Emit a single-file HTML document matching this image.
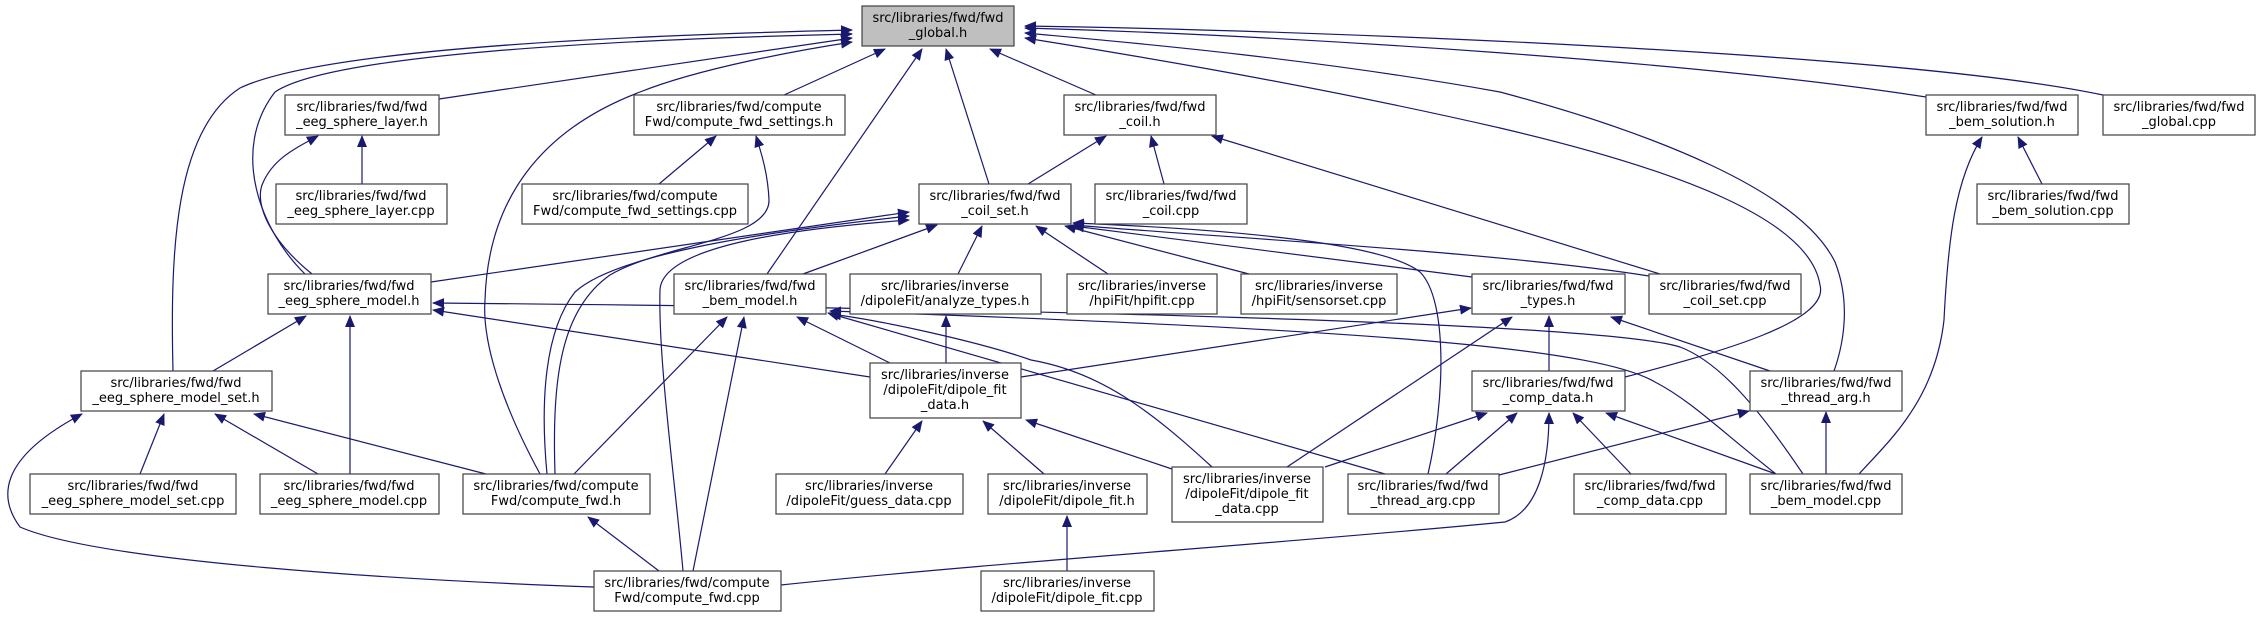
<!DOCTYPE html>
<html><head><meta charset="utf-8"><style>
html,body{margin:0;padding:0;background:#fff;}
svg{display:block;}
text{font-family:"DejaVu Sans","Liberation Sans",sans-serif;font-size:13px;fill:#000;text-anchor:middle;}
.b{fill:#fff;stroke:#404040;stroke-width:1.2;}
.e{fill:none;stroke:#191970;stroke-width:1.2;}
</style></head><body>
<svg width="2259" height="617" viewBox="0 0 2259 617" xmlns="http://www.w3.org/2000/svg">
<defs><marker id="a" markerWidth="12" markerHeight="10" refX="11" refY="5" orient="auto" markerUnits="userSpaceOnUse"><path d="M0,0 L12,5 L0,10 z" fill="#191970"/></marker></defs>
<g class="e" marker-end="url(#a)">
<!-- to global.h -->
<path d="M173,371 C170,250 175,130 240,88 C320,50 600,36 852,30"/>
<path d="M305,274 C260,230 230,150 275,92 C330,55 600,40 852,34"/>
<path d="M439,99 L852,38"/>
<path d="M540,474 C500,400 482,340 485,300 C488,200 540,130 640,92 C700,68 800,50 852,42"/>
<path d="M784,95 L885,49"/>
<path d="M767,274 L922,49"/>
<path d="M989,184 L946,49"/>
<path d="M1096,95 L990,49"/>
<path d="M1926,97 C1700,62 1300,36 1025,28"/>
<path d="M2103,95 C1900,52 1300,30 1025,26"/>
<path d="M1625,377 C1720,352 1830,322 1820,285 C1810,220 1680,170 1500,128 C1300,82 1100,50 1025,38"/>
<path d="M1834,371 C1845,340 1850,300 1835,262 C1800,190 1650,132 1500,92 C1300,56 1100,40 1025,33"/>
<!-- to eeg_sphere_layer.h -->
<path d="M362,184 L362,136"/>
<path d="M312,274 C270,240 255,205 262,185 C272,160 292,150 318,136"/>
<!-- to compute_fwd_settings.h -->
<path d="M659,184 L716,136"/>
<path d="M555,474 C552,380 560,310 610,275 C660,245 770,240 769,200 C768,175 762,155 756,136"/>
<!-- to coil.h -->
<path d="M1028,184 L1106,136"/>
<path d="M1164,184 L1151,136"/>
<path d="M1660,274 L1212,136"/>
<!-- to coil_set.h -->
<path d="M431,282 L909,212"/>
<path d="M547,474 C540,400 545,330 575,292 C620,250 800,228 909,216"/>
<path d="M683,571 C675,480 658,360 660,290 C662,245 800,228 909,220"/>
<path d="M803,274 L937,225"/>
<path d="M958,274 L982,226"/>
<path d="M1108,274 L1036,226"/>
<path d="M1249,274 L1065,226"/>
<path d="M1472,277 L1073,226"/>
<path d="M1649,276 C1500,252 1200,236 1073,225"/>
<path d="M1428,474 C1445,400 1448,300 1420,272 C1380,240 1200,228 1073,223"/>
<!-- to eeg_sphere_model.h -->
<path d="M213,371 L306,316"/>
<path d="M350,474 L350,316"/>
<path d="M870,377 L433,310"/>
<path d="M1803,474 C1760,410 1720,362 1680,347 C1600,322 1000,308 433,303"/>
<!-- to bem_model.h -->
<path d="M574,474 L727,317"/>
<path d="M693,571 L744,317"/>
<path d="M890,363 L797,317"/>
<path d="M1212,467 C1150,410 1100,372 1031,360 C980,342 880,320 830,314"/>
<path d="M1385,474 L828,313"/>
<path d="M1776,474 C1720,430 1690,400 1655,382 C1600,350 1400,330 830,311"/>
<!-- analyze_types -->
<path d="M946,363 L946,316"/>
<!-- to types.h -->
<path d="M1021,377 L1471,308"/>
<path d="M1549,371 L1549,316"/>
<path d="M1770,371 L1611,317"/>
<path d="M1287,467 L1512,317"/>
<!-- to dipole_fit_data.h -->
<path d="M885,474 L922,421"/>
<path d="M1044,474 L983,421"/>
<path d="M1172,469 L1026,420"/>
<!-- to comp_data.h -->
<path d="M1325,467 L1487,413"/>
<path d="M1446,474 L1517,413"/>
<path d="M1631,474 L1573,413"/>
<path d="M1776,474 L1606,413"/>
<path d="M781,585 C1000,562 1300,542 1505,522 C1540,510 1549,460 1549,413"/>
<!-- to thread_arg.h -->
<path d="M1826,474 L1826,412"/>
<path d="M1499,475 L1749,411"/>
<!-- to bem_solution.h -->
<path d="M1859,474 C1890,440 1935,400 1944,320 C1948,240 1955,180 1982,137"/>
<path d="M2042,184 L2018,137"/>
<!-- eeg_sphere_model_set.h -->
<path d="M594,587 C400,580 100,562 20,527 C0,500 -5,460 82,414"/>
<path d="M140,474 L164,414"/>
<path d="M318,474 L215,414"/>
<path d="M486,474 L254,414"/>
<!-- compute_fwd.h / dipole_fit.h -->
<path d="M659,571 L588,517"/>
<path d="M1067,571 L1067,516"/>
</g>
<g>
<rect x="862" y="6" width="152" height="40" style="fill:#bfbfbf;stroke:#404040;stroke-width:1.2"/>
<text x="938" y="22">src/libraries/fwd/fwd</text><text x="938" y="37">_global.h</text>
<rect class="b" x="285" y="95" width="154" height="40"/><text x="362" y="111">src/libraries/fwd/fwd</text><text x="362" y="126">_eeg_sphere_layer.h</text>
<rect class="b" x="634" y="95" width="211" height="40"/><text x="739" y="111">src/libraries/fwd/compute</text><text x="739" y="126">Fwd/compute_fwd_settings.h</text>
<rect class="b" x="1064" y="95" width="152" height="40"/><text x="1140" y="111">src/libraries/fwd/fwd</text><text x="1140" y="126">_coil.h</text>
<rect class="b" x="1926" y="95" width="152" height="40"/><text x="2002" y="111">src/libraries/fwd/fwd</text><text x="2002" y="126">_bem_solution.h</text>
<rect class="b" x="2103" y="95" width="152" height="40"/><text x="2179" y="111">src/libraries/fwd/fwd</text><text x="2179" y="126">_global.cpp</text>

<rect class="b" x="276" y="184" width="171" height="40"/><text x="361" y="200">src/libraries/fwd/fwd</text><text x="361" y="215">_eeg_sphere_layer.cpp</text>
<rect class="b" x="522" y="184" width="226" height="40"/><text x="635" y="200">src/libraries/fwd/compute</text><text x="635" y="215">Fwd/compute_fwd_settings.cpp</text>
<rect class="b" x="919" y="184" width="152" height="40"/><text x="995" y="200">src/libraries/fwd/fwd</text><text x="995" y="215">_coil_set.h</text>
<rect class="b" x="1095" y="184" width="152" height="40"/><text x="1171" y="200">src/libraries/fwd/fwd</text><text x="1171" y="215">_coil.cpp</text>
<rect class="b" x="1977" y="184" width="152" height="40"/><text x="2053" y="200">src/libraries/fwd/fwd</text><text x="2053" y="215">_bem_solution.cpp</text>

<rect class="b" x="268" y="274" width="163" height="40"/><text x="349" y="290">src/libraries/fwd/fwd</text><text x="349" y="305">_eeg_sphere_model.h</text>
<rect class="b" x="674" y="274" width="152" height="40"/><text x="750" y="290">src/libraries/fwd/fwd</text><text x="750" y="305">_bem_model.h</text>
<rect class="b" x="850" y="274" width="191" height="40"/><text x="945" y="290">src/libraries/inverse</text><text x="945" y="305">/dipoleFit/analyze_types.h</text>
<rect class="b" x="1067" y="274" width="150" height="40"/><text x="1142" y="290">src/libraries/inverse</text><text x="1142" y="305">/hpiFit/hpifit.cpp</text>
<rect class="b" x="1241" y="274" width="156" height="40"/><text x="1319" y="290">src/libraries/inverse</text><text x="1319" y="305">/hpiFit/sensorset.cpp</text>
<rect class="b" x="1472" y="274" width="153" height="40"/><text x="1548" y="290">src/libraries/fwd/fwd</text><text x="1548" y="305">_types.h</text>
<rect class="b" x="1649" y="274" width="152" height="40"/><text x="1725" y="290">src/libraries/fwd/fwd</text><text x="1725" y="305">_coil_set.cpp</text>

<rect class="b" x="81" y="371" width="191" height="40"/><text x="176" y="387">src/libraries/fwd/fwd</text><text x="176" y="402">_eeg_sphere_model_set.h</text>
<rect class="b" x="870" y="363" width="151" height="55"/><text x="945" y="379">src/libraries/inverse</text><text x="945" y="394">/dipoleFit/dipole_fit</text><text x="945" y="409">_data.h</text>
<rect class="b" x="1472" y="371" width="153" height="40"/><text x="1548" y="387">src/libraries/fwd/fwd</text><text x="1548" y="402">_comp_data.h</text>
<rect class="b" x="1750" y="371" width="152" height="40"/><text x="1826" y="387">src/libraries/fwd/fwd</text><text x="1826" y="402">_thread_arg.h</text>

<rect class="b" x="30" y="474" width="206" height="40"/><text x="133" y="490">src/libraries/fwd/fwd</text><text x="133" y="505">_eeg_sphere_model_set.cpp</text>
<rect class="b" x="260" y="474" width="179" height="40"/><text x="349" y="490">src/libraries/fwd/fwd</text><text x="349" y="505">_eeg_sphere_model.cpp</text>
<rect class="b" x="463" y="474" width="187" height="40"/><text x="556" y="490">src/libraries/fwd/compute</text><text x="556" y="505">Fwd/compute_fwd.h</text>
<rect class="b" x="776" y="474" width="187" height="40"/><text x="869" y="490">src/libraries/inverse</text><text x="869" y="505">/dipoleFit/guess_data.cpp</text>
<rect class="b" x="988" y="474" width="159" height="40"/><text x="1067" y="490">src/libraries/inverse</text><text x="1067" y="505">/dipoleFit/dipole_fit.h</text>
<rect class="b" x="1172" y="467" width="151" height="55"/><text x="1247" y="483">src/libraries/inverse</text><text x="1247" y="498">/dipoleFit/dipole_fit</text><text x="1247" y="513">_data.cpp</text>
<rect class="b" x="1348" y="474" width="151" height="40"/><text x="1423" y="490">src/libraries/fwd/fwd</text><text x="1423" y="505">_thread_arg.cpp</text>
<rect class="b" x="1574" y="474" width="152" height="40"/><text x="1650" y="490">src/libraries/fwd/fwd</text><text x="1650" y="505">_comp_data.cpp</text>
<rect class="b" x="1750" y="474" width="152" height="40"/><text x="1826" y="490">src/libraries/fwd/fwd</text><text x="1826" y="505">_bem_model.cpp</text>

<rect class="b" x="594" y="571" width="187" height="40"/><text x="687" y="587">src/libraries/fwd/compute</text><text x="687" y="602">Fwd/compute_fwd.cpp</text>
<rect class="b" x="981" y="571" width="173" height="40"/><text x="1067" y="587">src/libraries/inverse</text><text x="1067" y="602">/dipoleFit/dipole_fit.cpp</text>
</g>
</svg>
</body></html>
